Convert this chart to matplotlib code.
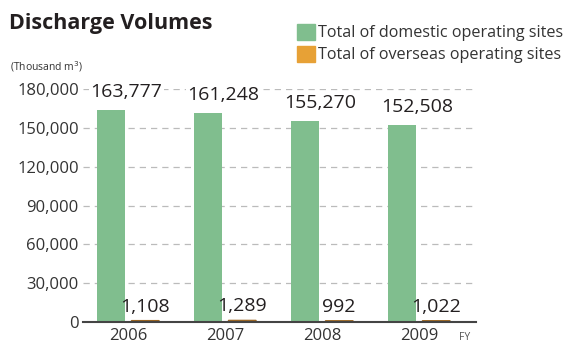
import numpy as np
import matplotlib.pyplot as plt
from matplotlib.patches import Patch

plt.rcParams['font.family'] = ['Open Sans', 'DejaVu Sans']

# Discharge volumes [thousand m3]
years = ['2006', '2007', '2008', '2009']
domestic = [163777, 161248, 155270, 152508]
overseas = [1108, 1289, 992, 1022]

green = '#80be8e'
orange = '#e7a136'
ink = '#231f20'

fig = plt.figure(figsize=(5.75, 3.47), dpi=100)
ax = fig.add_axes([83/575, 1 - 322/347, (476 - 83)/575, (322 - 89)/347])

x = np.arange(len(years))
off = 0.178
w = 0.285
ax.bar(x - off, domestic, w, color=green, zorder=3)
ax.bar(x + off, overseas, w, color=orange, edgecolor='#9a6420', linewidth=0.9,
       snap=False, zorder=3)

# value labels
for i in range(len(years)):
    ax.annotate(f'{domestic[i]:,}', (x[i], domestic[i]), xytext=(-1, 13),
                textcoords='offset points', ha='center', va='center',
                fontsize=14, color=ink, zorder=5,
                bbox=dict(facecolor='white', edgecolor='none', pad=1))
    ax.annotate(f'{overseas[i]:,}', (x[i] + off, overseas[i]), xytext=(0, 10),
                textcoords='offset points', ha='center', va='center',
                fontsize=14, color=ink, zorder=5)

ax.set_xlim(-0.464, 3.588)
ax.set_ylim(0, 180000)
ax.set_yticks(np.arange(0, 180001, 30000))
ax.set_yticklabels([f'{v:,}' for v in range(0, 180001, 30000)], fontsize=12, color='#333333')
ax.set_xticks(x)
ax.set_xticklabels(years, fontsize=12, color='#333333')
ax.tick_params(length=0, pad=3)
ax.tick_params(axis='x', pad=4)
ax.grid(axis='y', linestyle=(0, (5, 4)), color='#bbbbbb', linewidth=0.9, zorder=0)
for s in ['top', 'right', 'left']:
    ax.spines[s].set_visible(False)
ax.spines['bottom'].set_color('#444444')
ax.spines['bottom'].set_linewidth(1.5)
ax.spines['bottom'].set_zorder(4)

fig.text(9/575, 1 - 24/347, 'Discharge Volumes', fontsize=15.5, fontweight='bold',
         color=ink, va='center', ha='left')
fig.text(10/575, 1 - 67/347, '(Thousand m$^3$)', fontsize=7.5, color='#333333',
         va='center', ha='left')
fig.text(465/575, 1 - 337/347, 'FY', fontsize=7.5, color='#555555', va='center', ha='center')

handles = [Patch(color=green, label='Total of domestic operating sites'),
           Patch(color=orange, label='Total of overseas operating sites')]
fig.legend(handles=handles, loc='upper left', bbox_to_anchor=(289/575, 1 - 16/347),
           frameon=False, fontsize=11.6, handlelength=1.1, handleheight=1.1,
           handletextpad=0.2, labelspacing=0.3, borderpad=0, labelcolor='#333333')

fig.savefig('out.png', dpi=100)
